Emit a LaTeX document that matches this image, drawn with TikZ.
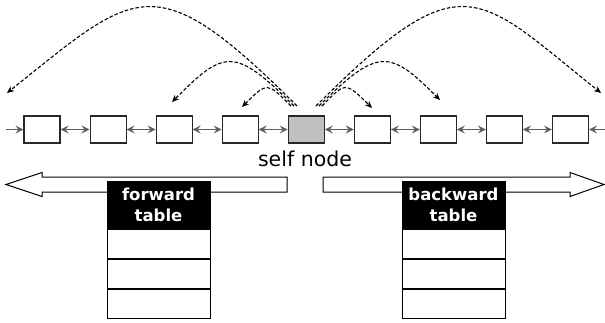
\documentclass[tikz,border=0pt]{standalone}
\usepackage{fontspec}
\setmainfont{DejaVu Sans}
\usetikzlibrary{arrows.meta}
\definecolor{linkgray}{RGB}{95,95,95}
\definecolor{selfgray}{RGB}{192,192,192}
\definecolor{boxline}{RGB}{40,40,40}
\begin{document}
\begin{tikzpicture}[x=1pt,y=-1pt,
  listbox/.style={draw=boxline,line width=1.1pt,fill=white,minimum width=36pt,minimum height=27pt,inner sep=0pt},
  gtip/.tip={Stealth[length=8pt,width=8pt,inset=3pt]},
  link/.style={draw=linkgray,line width=1.7pt,gtip-gtip},
  linkone/.style={draw=linkgray,line width=1.7pt,-gtip},
  jump/.style={draw=black,line width=1.1pt,dash pattern=on 3.5pt off 2pt,-{Stealth[length=7pt,width=6pt,inset=2pt]}},
  bigarrow/.style={draw=black,line width=1pt,fill=white},
  tablehead/.style={draw=black,fill=black,text=white,line width=0.8pt,minimum width=103pt,minimum height=47pt,inner sep=0pt,align=center,font=\fontsize{16.5}{21}\selectfont\bfseries},
  tablerow/.style={draw=black,fill=white,line width=0.8pt,minimum width=103pt,minimum height=29.2pt,inner sep=0pt,anchor=north},
]
\useasboundingbox (0,0) rectangle (605,322);

% list nodes
\foreach \i in {1,2,3,4,6,7,8,9}
  \node[listbox] (b\i) at ({42+66.06*(\i-1)},129.5) {};
\node[listbox,fill=selfgray] (b5) at ({42+66.06*4},129.5) {};

% links
\foreach \i [evaluate=\i as \j using int(\i+1)] in {1,...,8}
  \draw[link] (b\i) -- (b\j);
\coordinate (lend) at (6,129.5);
\coordinate (rend) at (605,129.5);
\draw[linkone] (lend) -- (b1);
\draw[linkone] (rend) -- (b9);

\node[font=\fontsize{20.5}{24}\selectfont,anchor=base,inner sep=0pt] (selflabel) at (305,166.5) {self node};

% big arrows
\draw[bigarrow] (287,177) -- (42,177) -- (42,172.5) -- (6,184.5) -- (42,196.5) -- (42,192) -- (287,192) -- cycle;
\draw[bigarrow] (323,177) -- (570,177) -- (570,172.5) -- (604,184.5) -- (570,196.5) -- (570,192) -- (323,192) -- cycle;

% tables
\node[tablehead] (fwdhead) at (158.5,205) {forward\\table};
\node[tablerow] (fwdrow1) at (fwdhead.south) {};
\node[tablerow] (fwdrow2) at (fwdrow1.south) {};
\node[tablerow] (fwdrow3) at (fwdrow2.south) {};
\node[tablehead] (bwdhead) at (453.5,205) {backward\\table};
\node[tablerow] (bwdrow1) at (bwdhead.south) {};
\node[tablerow] (bwdrow2) at (bwdrow1.south) {};
\node[tablerow] (bwdrow3) at (bwdrow2.south) {};

% jump pointers
\coordinate (sL1) at (297,106);
\coordinate (sL2) at (294,106);
\coordinate (sL3) at (291,106);
\coordinate (sR1) at (316,106);
\coordinate (sR2) at (319,106);
\coordinate (sR3) at (322,106);
\coordinate (eL1) at (7,93);
\coordinate (eL2) at (172,102);
\coordinate (eL3) at (242,107);
\coordinate (eR1) at (601,93);
\coordinate (eR2) at (440,100);
\coordinate (eR3) at (372,108);
\draw[jump] (sL1) .. controls (154,-37) and (136.6,-10.7) .. (eL1);
\draw[jump] (sL2) .. controls (234,46) and (224,50) .. (eL2);
\draw[jump] (sL3) .. controls (267,82) and (267.3,81.7) .. (eL3);
\draw[jump] (sR1) .. controls (463.1,-41.1) and (476.6,-6.5) .. (eR1);
\draw[jump] (sR2) .. controls (378.3,46.7) and (390,50) .. (eR2);
\draw[jump] (sR3) .. controls (344.7,83.3) and (344,80) .. (eR3);
\end{tikzpicture}
\end{document}
